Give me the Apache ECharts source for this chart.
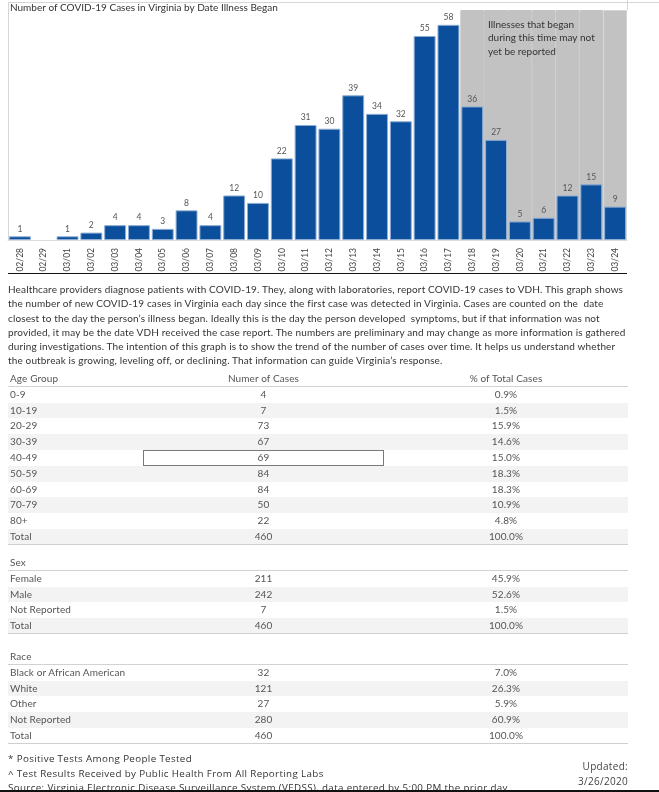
<!DOCTYPE html>
<html>
<head>
<meta charset="utf-8">
<script src="https://cdn.jsdelivr.net/npm/echarts@6/dist/echarts.min.js"></script>
<style>
  html, body { margin:0; padding:0; background:#fff; }
  body { width:659px; height:792px; overflow:hidden; position:relative; font-family: Lato, "Liberation Sans", sans-serif; }
  #chart { position:absolute; left:0; top:0; width:659px; height:290px; }
  .hline { position:absolute; height:1px; }
  .vline { position:absolute; width:1px; }
  #para { position:absolute; left:8px; top:282px; font-size:10px; letter-spacing:0.14px; line-height:14.3px; color:#333; white-space:nowrap; }
  .section { position:absolute; left:8px; width:620px; font-size:10px; letter-spacing:0.1px; color:#555; }
  .row { display:flex; height:15.8px; line-height:15.8px; box-sizing:border-box; }
  .row .c1 { width:135px; padding-left:2px; box-sizing:border-box; white-space:nowrap; }
  .row .c2 { width:241px; text-align:center; box-sizing:border-box; }
  .row .c3 { width:244px; text-align:center; box-sizing:border-box; }
  .row.hdr { border-bottom:1px solid #d2d2d2; }
  .row.alt { background:#f3f3f3; }
  .row.total { border-bottom:1.5px solid #cfcfcf; }
  .sel { box-shadow: inset 0 0 0 1px #7a7a7a; background:#fff; }
  #foot { position:absolute; left:8px; top:752px; font-family:"Open Sans", sans-serif; font-size:9.8px; letter-spacing:0.35px; line-height:14.5px; color:#333; white-space:nowrap; }
  #upd { position:absolute; right:31px; top:759px; font-family:"Open Sans", sans-serif; font-size:10px; letter-spacing:0.3px; line-height:14.5px; color:#444; text-align:right; }
</style>
</head>
<body>
<div class="hline" style="left:8px; top:2px; width:651px; background:#d6d6d6;"></div>
<div class="vline" style="left:8px; top:2px; height:238px; background:#d6d6d6;"></div>
<div class="vline" style="left:627px; top:0px; height:10px; background:#d6d6d6;"></div>
<div id="chart"></div>
<div class="hline" style="left:8px; top:273px; width:619px; background:#111;"></div>
<div id="para">
Healthcare providers diagnose patients with COVID-19. They, along with laboratories, report COVID-19 cases to VDH. This graph shows<br>
the number of new COVID-19 cases in Virginia each day since the first case was detected in Virginia. Cases are counted on the&nbsp; date<br>
closest to the day the person’s illness began. Ideally this is the day the person developed&nbsp; symptoms, but if that information was not<br>
provided, it may be the date VDH received the case report. The numbers are preliminary and may change as more information is gathered<br>
during investigations. The intention of this graph is to show the trend of the number of cases over time. It helps us understand whether<br>
the outbreak is growing, leveling off, or declining. That information can guide Virginia’s response.
</div>
<div id="tables"></div>
<div id="foot">
* Positive Tests Among People Tested<br>
^ Test Results Received by Public Health From All Reporting Labs<br>
Source: Virginia Electronic Disease Surveillance System (VEDSS), data entered by 5:00 PM the prior day
</div>
<div id="upd">Updated:<br>3/26/2020</div>
<div class="hline" style="left:0px; top:790px; width:659px; height:2px; background:#111;"></div>
<script>
// ---- Chart data ----
const dates = ['02/28','02/29','03/01','03/02','03/03','03/04','03/05','03/06','03/07','03/08','03/09','03/10','03/11','03/12','03/13','03/14','03/15','03/16','03/17','03/18','03/19','03/20','03/21','03/22','03/23','03/24'];
const cases = [1,0,1,2,4,4,3,8,4,12,10,22,31,30,39,34,32,55,58,36,27,5,6,12,15,9];
const lagDates = ['03/18','03/19','03/20','03/21','03/22','03/23','03/24'];
const yMax = 62;
const chartTitle = 'Number of COVID-19 Cases in Virginia by Date Illness Began';
const bandNote = ['Illnesses that began', 'during this time may not', 'yet be reported'];

// ---- Table data ----
const ageHeader = ['Age Group', 'Numer of Cases', '% of Total Cases'];
const ageGroups = ['0-9','10-19','20-29','30-39','40-49','50-59','60-69','70-79','80+','Total'];
const ageCases = [4,7,73,67,69,84,84,50,22,460];
const agePct = ['0.9%','1.5%','15.9%','14.6%','15.0%','18.3%','18.3%','10.9%','4.8%','100.0%'];
const sexGroups = ['Female','Male','Not Reported','Total'];
const sexCases = [211,242,7,460];
const sexPct = ['45.9%','52.6%','1.5%','100.0%'];
const raceGroups = ['Black or African American','White','Other','Not Reported','Total'];
const raceCases = [32,121,27,280,460];
const racePct = ['7.0%','26.3%','5.9%','60.9%','100.0%'];
const selectedAge = '40-49';

// ---- Chart ----
const lastDate = lagDates[lagDates.length - 1];
const bandColor = '#c2c2c2';
const bandData = dates.map(d => {
  if (!lagDates.includes(d)) return null;
  if (d === lastDate) return { value: yMax, itemStyle: { borderColor: '#d4d4d4', borderWidth: 1 } };
  return yMax;
});
// a zero count draws no bar
const barData = cases.map(v => (v === 0 ? '-' : v));

const chart = echarts.init(document.getElementById('chart'));
chart.setOption({
  animation: false,
  grid: { left: 8, right: 32, top: 10, bottom: 50, containLabel: false },
  xAxis: [
    { type: 'category', data: dates,
      axisLine: { show: true, lineStyle: { color: '#dcdcdc' } },
      axisTick: { show: false },
      axisLabel: { rotate: 90, interval: 0, fontSize: 8.5, color: '#444', margin: 8, fontFamily: 'Lato' } },
    { type: 'category', data: dates, show: false }
  ],
  yAxis: { type: 'value', min: 0, max: yMax, show: false, splitLine: { show: false } },
  series: [
    { type: 'bar', xAxisIndex: 1, data: bandData, barCategoryGap: 0, silent: true, z: 1,
      itemStyle: { color: bandColor, borderColor: bandColor, borderWidth: 1 } },
    { type: 'bar', xAxisIndex: 0, data: barData, barCategoryGap: '8%', z: 2,
      itemStyle: { color: '#0b4f9c', borderColor: '#8eaed4', borderWidth: 1 },
      label: { show: true, position: 'top', distance: 3, fontSize: 8.5, color: '#555', fontFamily: 'Lato' } }
  ],
  graphic: [
    { type: 'text', z: 100, left: 10, top: 3, style: { text: chartTitle, fontSize: 10, fill: '#333', fontFamily: 'Lato' } },
    { type: 'text', z: 100, left: 488, top: 18, style: { text: bandNote.join('\n'), fontSize: 10, lineHeight: 13.5, fill: '#333', fontFamily: 'Lato' } }
  ]
});

// ---- Tables ----
function buildSection(top, header, groups, nums, pcts, selected) {
  const sec = document.createElement('div');
  sec.className = 'section';
  sec.style.top = top + 'px';
  let html = '<div class="row hdr"><div class="c1">' + header[0] + '</div><div class="c2">' + (header[1] || '') + '</div><div class="c3">' + (header[2] || '') + '</div></div>';
  groups.forEach((g, i) => {
    const cls = ['row'];
    if (i % 2 === 1) cls.push('alt');
    if (g === 'Total') cls.push('total');
    const selCls = (g === selected) ? 'c2 sel' : 'c2';
    html += '<div class="' + cls.join(' ') + '"><div class="c1">' + g + '</div><div class="' + selCls + '">' + nums[i] + '</div><div class="c3">' + pcts[i] + '</div></div>';
  });
  sec.innerHTML = html;
  document.getElementById('tables').appendChild(sec);
}
buildSection(371, ageHeader, ageGroups, ageCases, agePct, selectedAge);
buildSection(555, ['Sex'], sexGroups, sexCases, sexPct, null);
buildSection(649, ['Race'], raceGroups, raceCases, racePct, null);
</script>
</body>
</html>
